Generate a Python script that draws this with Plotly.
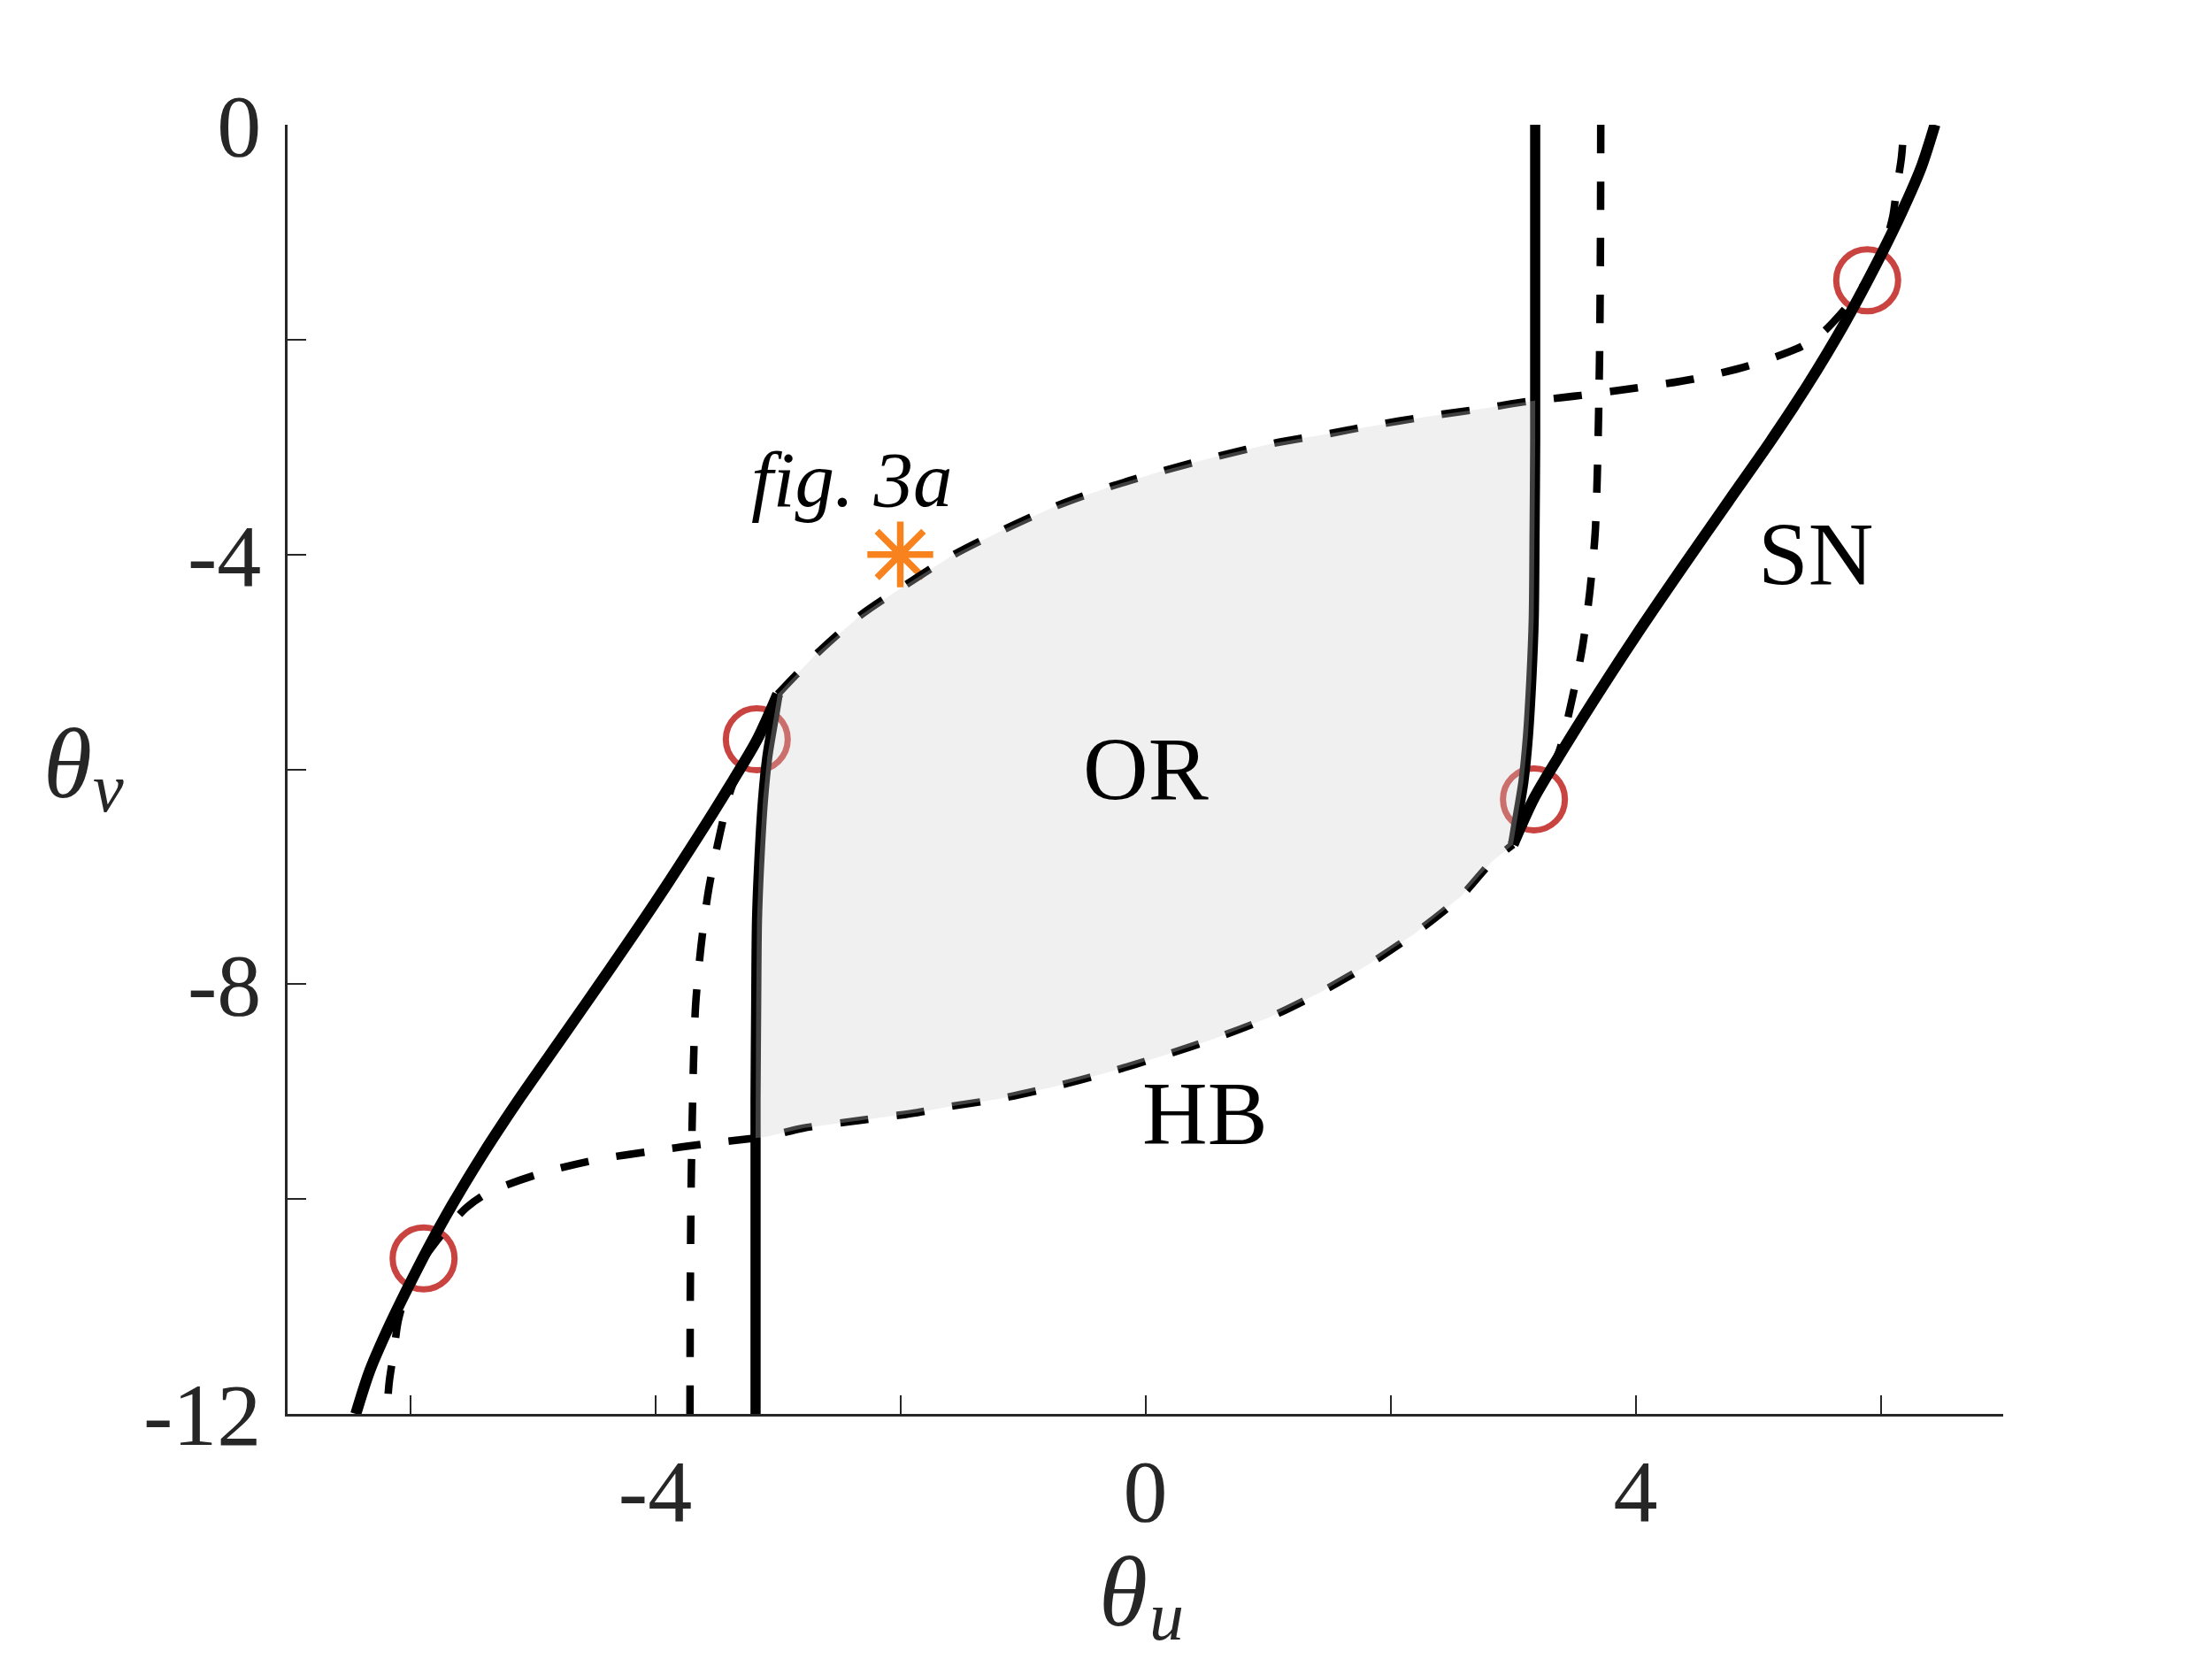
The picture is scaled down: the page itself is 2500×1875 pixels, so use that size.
import plotly.graph_objects as go

# ---------------- data ----------------
# Saddle-node (SN) curves, solid
sn_left_x = [-6.443, -6.33, -6.17, -5.95, -5.70, -5.40, -5.094, -4.757, -4.372, -4.011, -3.651, -3.41, -3.171, -3.0]
sn_left_y = [-12.0, -11.60, -11.18, -10.67, -10.14, -9.57, -9.042, -8.493, -7.862, -7.258, -6.627, -6.187, -5.73, -5.30]
sn_right_x = [3.0, 3.171, 3.41, 3.651, 4.011, 4.372, 4.757, 5.094, 5.40, 5.70, 5.95, 6.17, 6.33, 6.443]
sn_right_y = [-6.70, -6.27, -5.813, -5.373, -4.742, -4.138, -3.507, -2.958, -2.43, -1.86, -1.33, -0.82, -0.40, 0.0]
snv_left_x = [-3.181, -3.181, -3.181, -3.176, -3.169, -3.15, -3.121, -3.085, -3.025, -3.0]
snv_left_y = [-12.0, -9.433, -9.042, -8.22, -7.395, -6.846, -6.297, -5.885, -5.473, -5.30]
snv_right_x = [3.181, 3.181, 3.181, 3.176, 3.169, 3.15, 3.121, 3.085, 3.025, 3.0]
snv_right_y = [0.0, -2.567, -2.958, -3.78, -4.605, -5.154, -5.703, -6.115, -6.527, -6.70]

# Hopf (HB) curves, dashed
hb_up_x = [-3.0, -2.85, -2.679, -2.323, -1.946, -1.57, -1.155, -0.727, -0.291, 0.152, 0.587, 1.043,
           1.498, 1.815, 2.29, 2.745, 3.092, 3.181, 3.555, 4.004, 4.468, 4.917, 5.351, 5.531, 5.72, 5.89]
hb_up_y = [-5.30, -5.12, -4.92, -4.564, -4.276, -4.006, -3.768, -3.548, -3.37, -3.219, -3.087, -2.966,
           -2.876, -2.807, -2.717, -2.643, -2.579, -2.567, -2.519, -2.45, -2.368, -2.245, -2.066, -1.929, -1.70, -1.448]
hb_lo_x = [-5.89, -5.72, -5.531, -5.351, -4.917, -4.468, -4.004, -3.555, -3.181, -3.092, -2.792, -2.317,
           -1.862, -1.604, -1.188, -0.753, -0.298, 0.138, 0.573, 1.009, 1.425, 1.821, 2.197, 2.573, 2.831, 3.0]
hb_lo_y = [-10.552, -10.30, -10.071, -9.934, -9.755, -9.632, -9.55, -9.481, -9.433, -9.421, -9.34, -9.266,
           -9.195, -9.14, -9.066, -8.956, -8.819, -8.668, -8.503, -8.311, -8.078, -7.817, -7.529, -7.185, -6.856, -6.70]
hbv_right_x = [3.716, 3.714, 3.708, 3.70, 3.687, 3.670, 3.627, 3.566, 3.477, 3.374, 3.27, 3.171]
hbv_right_y = [0.0, -1.0, -2.0, -2.6, -3.288, -3.809, -4.344, -4.866, -5.373, -5.84, -6.08, -6.279]
hbv_left_x = [-3.716, -3.714, -3.708, -3.70, -3.687, -3.670, -3.627, -3.566, -3.477, -3.374, -3.27, -3.171]
hbv_left_y = [-12.0, -11.0, -10.0, -9.4, -8.712, -8.191, -7.656, -7.134, -6.627, -6.16, -5.92, -5.721]
hbt_right_x = [5.89, 5.97, 6.04, 6.10, 6.13, 6.17, 6.19]
hbt_right_y = [-1.448, -1.3, -1.1, -0.85, -0.6, -0.3, 0.0]
hbt_left_x = [-5.89, -5.97, -6.04, -6.10, -6.13, -6.17, -6.19]
hbt_left_y = [-10.552, -10.7, -10.9, -11.15, -11.4, -11.7, -12.0]

# Bogdanov-Takens points (circles) and the fig. 3a point (star)
bt_x = [-5.89, -3.171, 3.171, 5.89]
bt_y = [-10.552, -5.721, -6.279, -1.448]
star_x = [-2.0]
star_y = [-4.0]

# ticks
x_tickvals = [-4, 0, 4]
x_ticktext = ["-4", "0", "4"]
x_minorvals = [-6, -2, 2, 6]
y_tickvals = [0, -4, -8, -12]
y_ticktext = ["0", "-4", "-8", "-12"]
y_minorvals = [-2, -6, -10]

# ---------------- figure ----------------
SERIF = "Liberation Serif, Times New Roman, serif"
AX = "#262626"
fig = go.Figure()

fig.add_trace(go.Scatter(x=bt_x, y=bt_y, mode="markers", hoverinfo="skip",
                         marker=dict(symbol="circle-open", size=70, color="#C94441",
                                     line=dict(width=7, color="#C94441"))))
fig.add_trace(go.Scatter(x=star_x, y=star_y, mode="markers", hoverinfo="skip",
                         marker=dict(symbol="asterisk-open", size=62, color="#F7821E",
                                     line=dict(width=7.5, color="#F7821E"))))

for xs, ys, w in [(sn_left_x, sn_left_y, 12.5), (sn_right_x, sn_right_y, 12.5),
                  (snv_left_x, snv_left_y, 11.5), (snv_right_x, snv_right_y, 11.5)]:
    fig.add_trace(go.Scatter(x=xs, y=ys, mode="lines", hoverinfo="skip",
                             line=dict(color="black", width=w, shape="spline", smoothing=0.8)))

for xs, ys in [(hb_up_x, hb_up_y), (hb_lo_x, hb_lo_y), (hbv_right_x, hbv_right_y),
               (hbv_left_x, hbv_left_y), (hbt_right_x, hbt_right_y), (hbt_left_x, hbt_left_y)]:
    fig.add_trace(go.Scatter(x=xs, y=ys, mode="lines", hoverinfo="skip",
                             line=dict(color="black", width=8.5, dash="32px,32px",
                                       shape="spline", smoothing=0.8)))

# shaded oscillatory region (OR), built from the boundary curves
lv = [(x, y) for x, y in zip(snv_left_x, snv_left_y) if y >= -9.433]
up = [(x, y) for x, y in zip(hb_up_x, hb_up_y) if x <= 3.181]
rv = [(x, y) for x, y in zip(snv_right_x, snv_right_y) if y <= -2.567]
lo = [(x, y) for x, y in zip(hb_lo_x, hb_lo_y) if x >= -3.181][::-1]
poly = lv + up + rv + lo
fig.add_trace(go.Scatter(x=[p[0] for p in poly], y=[p[1] for p in poly], mode="lines",
                         fill="toself", fillcolor="rgba(206,206,206,0.31)",
                         line=dict(width=0), hoverinfo="skip"))

def ann(text, x, y, size, ref="data", **kw):
    xr, yr = ("x", "y") if ref == "data" else ("paper", "paper")
    fig.add_annotation(text=text, x=x, y=y, xref=xr, yref=yr, showarrow=False,
                       xanchor="center", yanchor="middle",
                       font=dict(family=SERIF, size=size, color=kw.pop("color", "black")), **kw)

ann("OR", 0.0, -6.0, 102)
ann("HB", 0.49, -9.2, 102)
ann("SN", 5.47, -4.0, 102)
ann("<i>fig. 3a</i>", -2.4, -3.30, 89)
# axis titles: theta with italic subscripts
ann("<i>θ</i>", -0.1284, 0.5045, 112, ref="paper", color=AX)
ann("<i>v</i>", -0.1044, 0.4859, 78, ref="paper", color=AX)
ann("<i>θ</i>", 0.4869, -0.1380, 112, ref="paper", color=AX)
ann("<i>u</i>", 0.5124, -0.1570, 78, ref="paper", color=AX)

axis_common = dict(ticks="inside", ticklen=21, tickwidth=2, tickcolor=AX,
                   showline=True, linecolor=AX, linewidth=2.5, showgrid=False,
                   zeroline=False, tickfont=dict(family=SERIF, size=100, color=AX),
                   tickmode="array")
minor_common = dict(ticks="inside", ticklen=21, tickwidth=2, tickcolor=AX,
                    showgrid=False, tickmode="array")
fig.update_xaxes(range=[-7, 7], tickvals=x_tickvals, ticktext=x_ticktext,
                 minor=dict(tickvals=x_minorvals, **minor_common),
                 ticklabelstandoff=-2, **axis_common)
fig.update_yaxes(range=[-12, 0], tickvals=y_tickvals, ticktext=y_ticktext,
                 minor=dict(tickvals=y_minorvals, **minor_common),
                 ticklabelstandoff=7, **axis_common)

# margins compensate the 8px default page margin of the html body
fig.update_layout(width=2500, height=1875, showlegend=False,
                  margin=dict(l=317, r=244, t=133, b=285, pad=0),
                  paper_bgcolor="white", plot_bgcolor="white")

fig.write_html("out.html")
